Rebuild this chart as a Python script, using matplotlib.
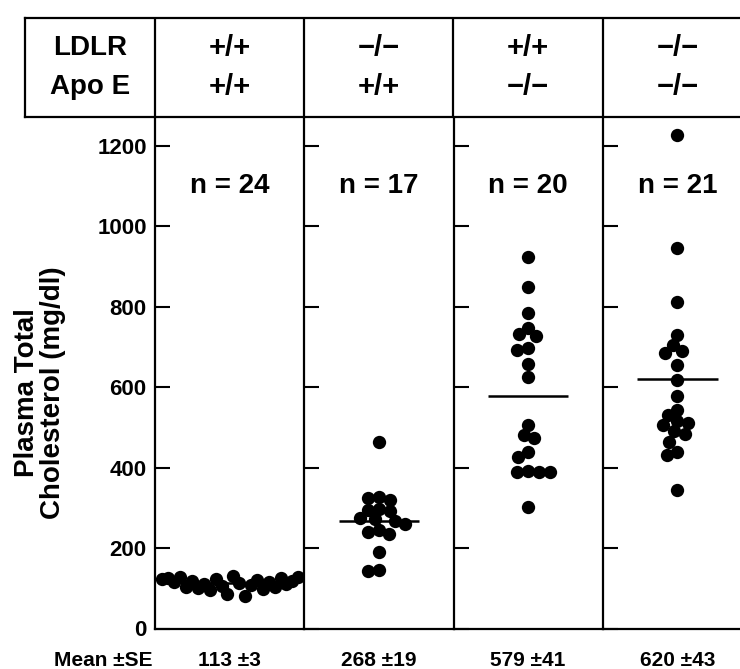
import matplotlib
matplotlib.use("Agg")
import matplotlib.pyplot as plt
import numpy as np

# genotypes (header) and plasma cholesterol per mouse, mg/dl
ldlr = ["+/+", "\u2212/\u2212", "+/+", "\u2212/\u2212"]
apoe = ["+/+", "+/+", "\u2212/\u2212", "\u2212/\u2212"]

wt = [122, 126, 115, 128, 104, 118, 100, 110, 96, 124, 105, 86,
      130, 112, 82, 108, 120, 99, 116, 102, 125, 110, 118, 127]
ldlr_ko = [465, 326, 324, 320, 298, 295, 292, 275, 272, 268, 260,
           245, 240, 235, 191, 145, 142]
apoe_ko = [925, 850, 784, 747, 732, 728, 697, 693, 658, 626,
           506, 481, 473, 440, 427, 392, 390, 389, 388, 303]
double_ko = [1228, 946, 813, 730, 705, 690, 685, 655, 618, 577, 544,
             530, 516, 512, 505, 490, 484, 465, 440, 432, 345]
groups = [wt, ldlr_ko, apoe_ko, double_ko]

means = [113, 268, 579, 620]
ses = [3, 19, 41, 43]
yticks = [0, 200, 400, 600, 800, 1000, 1200]

plt.rcParams["font.family"] = ["Liberation Sans", "DejaVu Sans"]
plt.rcParams["font.weight"] = "bold"

W, H = 740, 669
fig = plt.figure(figsize=(W / 100, H / 100), dpi=100)

x0, box_w = 155, 149.25
y_zero, y_top = 628.5, 117
ymax = 1272


def swarm(vals, dot_px, xpx, ypx):
    # simple beeswarm: closest free x offset for each point, in pixels
    order = np.argsort(vals)[::-1]
    placed = []
    xs = np.zeros(len(vals))
    for i in order:
        y = vals[i] * ypx
        cands = [0.0]
        for px, py in placed:
            dy = y - py
            if abs(dy) < dot_px:
                dx = np.sqrt(dot_px ** 2 - dy ** 2)
                cands += [px + dx, px - dx]
        cands.sort(key=lambda c: (abs(c), c))
        for c in cands:
            if all((c - px) ** 2 + (y - py) ** 2 >= dot_px ** 2 - 1e-6
                   for px, py in placed):
                break
        placed.append((c, y))
        xs[i] = c / xpx
    return xs


axes = []
for i, vals in enumerate(groups):
    ax = fig.add_axes([(x0 + i * box_w) / W, (H - y_zero) / H,
                       box_w / W, (y_zero - y_top) / H])
    ax.set_xlim(-0.5, 0.5)
    ax.set_ylim(0, ymax)
    ax.set_xticks([])
    ax.set_yticks(yticks)
    ax.tick_params(axis="y", direction="in", length=10.5, width=1.5,
                   pad=6, labelsize=16)
    if i > 0:
        ax.set_yticklabels([])
    for s in ("top", "right"):
        ax.spines[s].set_visible(False)
    for s in ("left", "bottom"):
        ax.spines[s].set_linewidth(1.6)
    ax.patch.set_alpha(0)

    vals = np.array(vals, dtype=float)
    ypx = (y_zero - y_top) / ymax
    if i == 0:
        xs = np.linspace(-0.45, 0.46, len(vals))
    else:
        xs = swarm(vals, 11, box_w, ypx)
    ax.scatter(xs, vals, s=92, color="black", linewidths=0, zorder=3)
    ax.hlines(means[i], -0.27, 0.27, color="black", lw=1.8, zorder=2)
    ax.text(0, 1100, f"n = {len(vals)}", ha="center", va="center",
            fontsize=20, fontweight="bold")
    ax.text(0, -0.062, f"{means[i]} \u00b1{ses[i]}", transform=ax.get_xaxis_transform(),
            ha="center", va="center", fontsize=15, fontweight="bold",
            clip_on=False)
    axes.append(ax)

axes[0].text(-0.52, -0.062, "Mean \u00b1SE", transform=axes[0].get_xaxis_transform(),
             ha="right", va="center", fontsize=15, fontweight="bold")

# genotype header table
lab_w = 0.87
hdr_top = 18
hdr = fig.add_axes([(x0 - lab_w * box_w) / W, (H - y_top) / H,
                    (lab_w + 4) * box_w / W, (y_top - hdr_top) / H])
hdr.set_xlim(-lab_w, 4)
hdr.set_ylim(0, 1)
hdr.set_xticks([])
hdr.set_yticks([])
hdr.spines["right"].set_visible(False)
for s in ("top", "bottom", "left"):
    hdr.spines[s].set_linewidth(1.6)
for k in range(4):
    hdr.axvline(k, color="black", lw=1.6)
    hdr.text(k + 0.5, 0.70, ldlr[k], ha="center", va="center", fontsize=21)
    hdr.text(k + 0.5, 0.30, apoe[k], ha="center", va="center", fontsize=21)
hdr.text(-lab_w / 2, 0.70, "LDLR", ha="center", va="center", fontsize=20)
hdr.text(-lab_w / 2, 0.30, "Apo E", ha="center", va="center", fontsize=20)

fig.text(40 / W, 1 - 393 / H, "Plasma Total\nCholesterol (mg/dl)", rotation=90,
         ha="center", va="center", fontsize=20, fontweight="bold",
         linespacing=1.05, multialignment="center")

fig.savefig("out.png", dpi=100)
